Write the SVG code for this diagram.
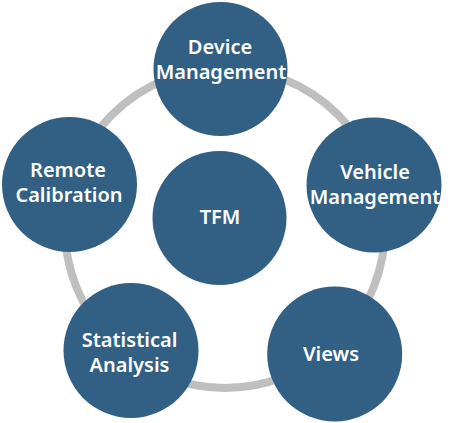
<svg xmlns="http://www.w3.org/2000/svg" width="454" height="423" viewBox="0 0 454 423">
<style>
.n{fill:#316084}
.t{fill:#fff;font-family:"Noto Sans","Liberation Sans",sans-serif;font-size:20px;font-weight:600;text-anchor:middle}
.ring{fill:none;stroke:#bfbfbf;stroke-width:8}
</style>
<rect width="454" height="423" fill="#fff"/>
<g id="connectors">
<circle class="ring" cx="225" cy="228" r="160"/>
</g>
<g id="tfm"><circle class="n" cx="219.5" cy="218" r="67"/><text class="t" x="220" y="224">TFM</text></g>
<g id="device-management"><circle class="n" cx="220.5" cy="69" r="67"/><text class="t" x="220" y="54">Device</text><text class="t" x="221" y="79">Management</text></g>
<g id="vehicle-management"><circle class="n" cx="374" cy="185" r="67.5"/><text class="t" x="375" y="179">Vehicle</text><text class="t" x="375" y="204">Management</text></g>
<g id="views"><circle class="n" cx="334.7" cy="354" r="67.5"/><text class="t" x="331" y="361">Views</text></g>
<g id="statistical-analysis"><circle class="n" cx="131" cy="350.5" r="67.5"/><text class="t" x="129.5" y="347">Statistical</text><text class="t" x="129.5" y="372">Analysis</text></g>
<g id="remote-calibration"><circle class="n" cx="69.5" cy="184.5" r="67.5"/><text class="t" x="68" y="177">Remote</text><text class="t" x="69" y="202">Calibration</text></g>
</svg>
